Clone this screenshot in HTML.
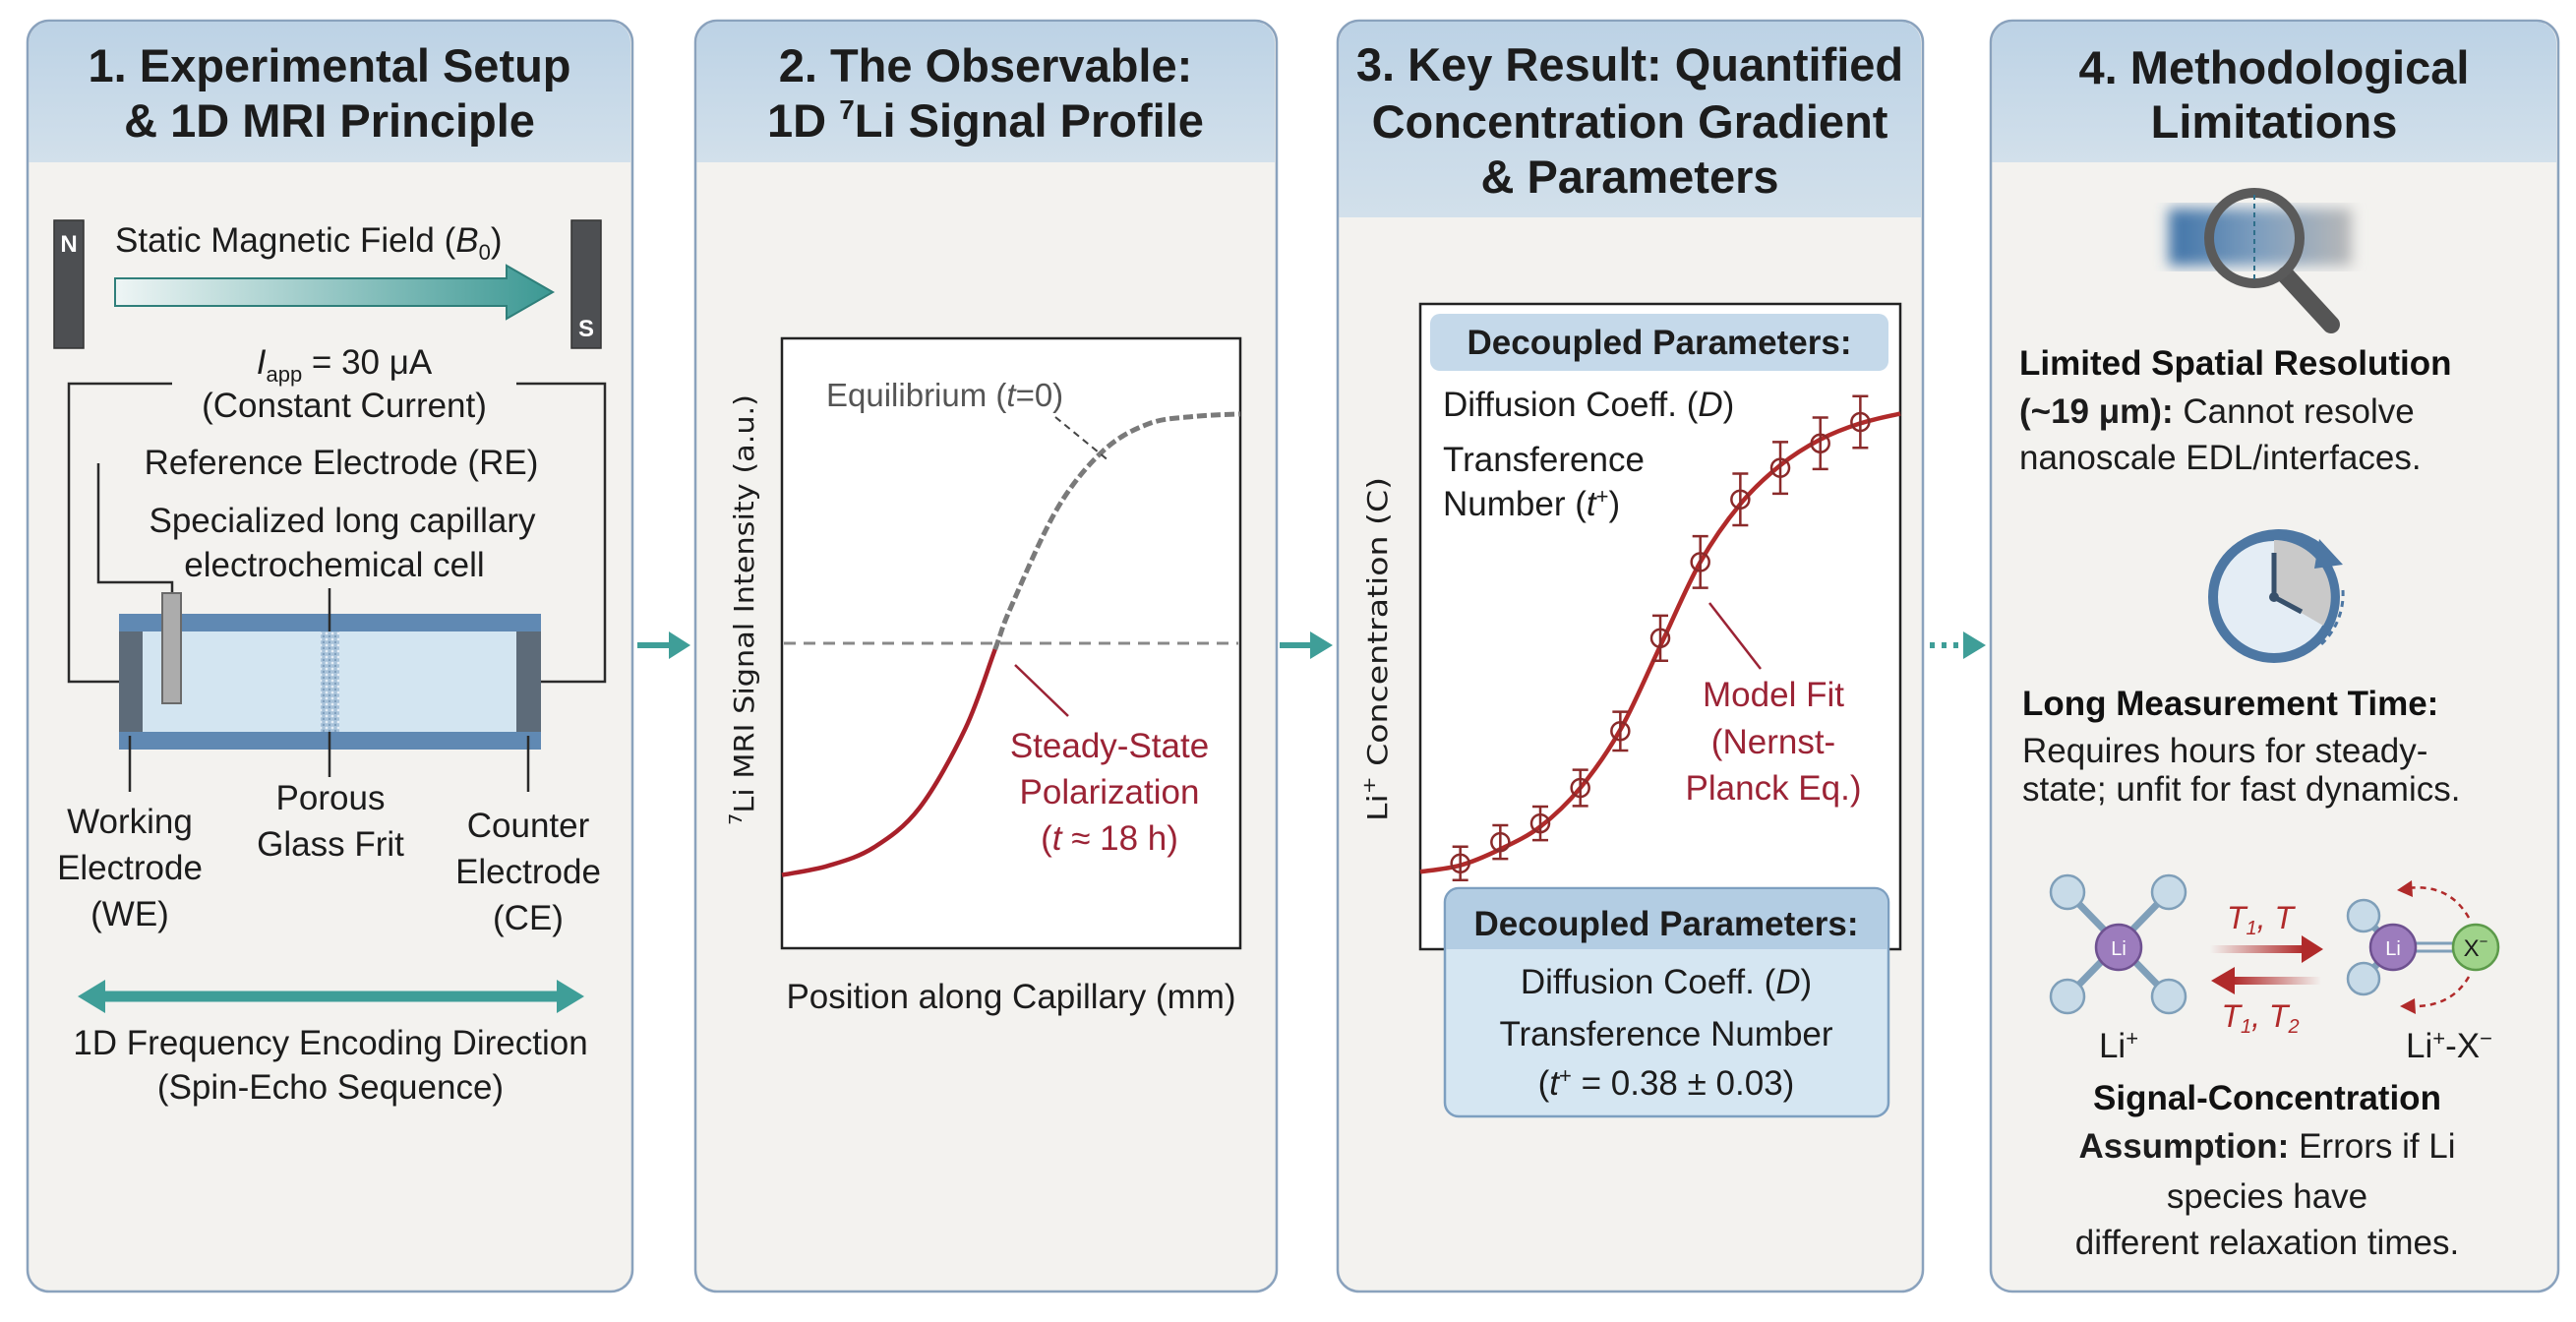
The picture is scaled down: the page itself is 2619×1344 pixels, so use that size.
<!DOCTYPE html>
<html><head><meta charset="utf-8"><style>
html,body{margin:0;padding:0;background:#fff;}
svg{display:block;font-family:"Liberation Sans",Arial,sans-serif;}
</style></head><body>
<svg id="root" width="2619" height="1344" viewBox="0 0 2619 1344" xmlns="http://www.w3.org/2000/svg">
<defs>
<linearGradient id="hdr" x1="0" y1="0" x2="0" y2="1"><stop offset="0" stop-color="#bcd2e5"/><stop offset="1" stop-color="#d2e0eb"/></linearGradient>
<linearGradient id="fieldGrad" x1="0" y1="0" x2="1" y2="0"><stop offset="0" stop-color="#eef5f5"/><stop offset="1" stop-color="#3b9893"/></linearGradient>
<linearGradient id="blurBar" x1="0" y1="0" x2="1" y2="0"><stop offset="0" stop-color="#3f73a8"/><stop offset="0.5" stop-color="#7f9fbf"/><stop offset="1" stop-color="#b8b8b8"/></linearGradient>
<linearGradient id="fadeR" x1="0" y1="0" x2="1" y2="0"><stop offset="0" stop-color="#b02a2a" stop-opacity="0"/><stop offset="1" stop-color="#b02a2a"/></linearGradient>
<linearGradient id="fadeL" x1="0" y1="0" x2="1" y2="0"><stop offset="0" stop-color="#b02a2a"/><stop offset="1" stop-color="#b02a2a" stop-opacity="0"/></linearGradient>
<filter id="blur6"><feGaussianBlur stdDeviation="7"/></filter>
<pattern id="frit" width="6" height="6" patternUnits="userSpaceOnUse"><rect width="6" height="6" fill="#a9c3da"/><circle cx="2" cy="2" r="1.4" fill="#e6eef6"/><circle cx="5" cy="5" r="1.2" fill="#7f9fbd"/></pattern>
<marker id="tealHead" markerWidth="4" markerHeight="4" refX="2" refY="2" orient="auto" markerUnits="strokeWidth"><path d="M0,0 L4,2 L0,4 z" fill="#3f9e98"/></marker>
</defs>

<!-- Panels -->
<g>
<rect x="28" y="21" width="615" height="1292" rx="22" fill="#f3f2ef" stroke="#8aa2bd" stroke-width="2.5"/>
<path d="M29.5,165 V43 a21,21 0 0 1 21,-21 H620 a21,21 0 0 1 21,21 V165 Z" fill="url(#hdr)"/>
<text x="335" y="83" font-size="47" font-weight="bold" text-anchor="middle" fill="#1c1c1c">1. Experimental Setup<tspan x="335" y="139">&amp; 1D MRI Principle</tspan></text>
</g>
<g>
<rect x="707" y="21" width="591" height="1292" rx="22" fill="#f3f2ef" stroke="#8aa2bd" stroke-width="2.5"/>
<path d="M708.5,165 V43 a21,21 0 0 1 21,-21 H1275 a21,21 0 0 1 21,21 V165 Z" fill="url(#hdr)"/>
<text x="1002" y="83" font-size="47" font-weight="bold" text-anchor="middle" fill="#1c1c1c">2. The Observable:<tspan x="1002" y="139">1D <tspan font-size="28" dy="-18">7</tspan><tspan dy="18">Li Signal Profile</tspan></tspan></text>
</g>
<g>
<rect x="1360" y="21" width="595" height="1292" rx="22" fill="#f3f2ef" stroke="#8aa2bd" stroke-width="2.5"/>
<path d="M1361.5,221 V43 a21,21 0 0 1 21,-21 H1932 a21,21 0 0 1 21,21 V221 Z" fill="url(#hdr)"/>
<text x="1657" y="82" font-size="47" font-weight="bold" text-anchor="middle" fill="#1c1c1c">3. Key Result: Quantified<tspan x="1657" y="140">Concentration Gradient</tspan><tspan x="1657" y="196">&amp; Parameters</tspan></text>
</g>
<g>
<rect x="2024" y="21" width="577" height="1292" rx="22" fill="#f3f2ef" stroke="#8aa2bd" stroke-width="2.5"/>
<path d="M2025.5,165 V43 a21,21 0 0 1 21,-21 H2578 a21,21 0 0 1 21,21 V165 Z" fill="url(#hdr)"/>
<text x="2312" y="85" font-size="47" font-weight="bold" text-anchor="middle" fill="#1c1c1c">4. Methodological<tspan x="2312" y="140">Limitations</tspan></text>
</g>

<!-- connector arrows -->
<g><line x1="648" y1="656" x2="682" y2="656" stroke="#3f9e98" stroke-width="6"/><path d="M680,642 L702,656 L680,670 z" fill="#3f9e98"/></g>
<g><line x1="1301" y1="656" x2="1334" y2="656" stroke="#3f9e98" stroke-width="6"/><path d="M1332,642 L1355,656 L1332,670 z" fill="#3f9e98"/></g>
<g><line x1="1962" y1="656" x2="1996" y2="656" stroke="#3f9e98" stroke-width="6" stroke-dasharray="5,7"/><path d="M1996,642 L2019,656 L1996,670 z" fill="#3f9e98"/></g>

<!-- Panel 1 content -->
<g><rect x="55" y="224" width="30" height="130" fill="#4d4f52" stroke="#333" stroke-width="1.5"/><text x="70" y="256" font-size="24" font-weight="bold" fill="#fff" text-anchor="middle">N</text></g>
<g><rect x="581" y="224" width="30" height="130" fill="#4d4f52" stroke="#333" stroke-width="1.5"/><text x="596" y="342" font-size="24" font-weight="bold" fill="#fff" text-anchor="middle">S</text></g>
<text x="117" y="256" font-size="35" fill="#1c1c1c">Static Magnetic Field (<tspan font-style="italic">B</tspan><tspan font-size="22" dy="8">0</tspan><tspan dy="-8">)</tspan></text>
<path d="M117,283 H515 V270 L562,297 L515,324 V311 H117 Z" fill="url(#fieldGrad)" stroke="#2f7f7a" stroke-width="2"/>
<text x="350" y="380" font-size="35" text-anchor="middle" fill="#1c1c1c"><tspan font-style="italic">I</tspan><tspan font-size="22" dy="8">app</tspan><tspan dy="-8"> = 30 μA</tspan></text>
<text x="350" y="424" font-size="35" text-anchor="middle" fill="#1c1c1c">(Constant Current)</text>
<g fill="none" stroke="#2a2a2a" stroke-width="2.5">
<polyline points="175,390 70,390 70,693 121,693"/>
<polyline points="525,390 615,390 615,693 550,693"/>
<polyline points="100,471 100,592 175,592 175,603"/>
</g>
<text x="347" y="482" font-size="35" text-anchor="middle" fill="#1c1c1c">Reference Electrode (RE)</text>
<text x="348" y="541" font-size="35" text-anchor="middle" fill="#1c1c1c">Specialized long capillary<tspan x="340" y="586">electrochemical cell</tspan></text>
<g>
<rect x="121" y="624" width="429" height="138" fill="#6089b3"/>
<rect x="145" y="642" width="380" height="102" fill="#d3e5f1"/>
<rect x="121" y="642" width="24" height="102" fill="#5d6b79"/>
<rect x="525" y="642" width="25" height="102" fill="#5d6b79"/>
<rect x="326" y="642" width="19" height="102" fill="url(#frit)"/>
<rect x="165" y="603" width="19" height="112" fill="#acacac" stroke="#6a6a6a" stroke-width="2"/>
</g>
<g stroke="#2a2a2a" stroke-width="2.5">
<line x1="335" y1="598" x2="335" y2="642"/><line x1="335" y1="744" x2="335" y2="790"/>
<line x1="132" y1="748" x2="132" y2="805"/><line x1="537" y1="748" x2="537" y2="805"/>
</g>
<g font-size="35" text-anchor="middle" fill="#1c1c1c">
<text x="132" y="847">Working<tspan x="132" y="894">Electrode</tspan><tspan x="132" y="941">(WE)</tspan></text>
<text x="336" y="823">Porous<tspan x="336" y="870">Glass Frit</tspan></text>
<text x="537" y="851">Counter<tspan x="537" y="898">Electrode</tspan><tspan x="537" y="945">(CE)</tspan></text>
</g>
<g>
<line x1="100" y1="1013" x2="572" y2="1013" stroke="#3f9e98" stroke-width="11"/>
<path d="M79,1013 L107,996 L107,1030 z" fill="#3f9e98"/><path d="M594,1013 L566,996 L566,1030 z" fill="#3f9e98"/>
</g>
<text x="336" y="1072" font-size="35" text-anchor="middle" fill="#1c1c1c">1D Frequency Encoding Direction<tspan x="336" y="1117">(Spin-Echo Sequence)</tspan></text>

<!-- Panel 2 chart -->
<rect x="795" y="344" width="466" height="620" fill="#fff" stroke="#222" stroke-width="2.5"/>
<line x1="797" y1="654" x2="1259" y2="654" stroke="#888" stroke-width="3" stroke-dasharray="12,8"/>
<g id="p2marks"></g>
<text x="840" y="413" font-size="33" fill="#555">Equilibrium (<tspan font-style="italic">t</tspan>=0)</text>
<line x1="1073" y1="424" x2="1128" y2="469" stroke="#444" stroke-width="2" stroke-dasharray="7,5"/>
<line x1="1032" y1="676" x2="1086" y2="728" stroke="#9b2335" stroke-width="2.5"/>
<text x="1128" y="770" font-size="35" text-anchor="middle" fill="#9b2335">Steady-State<tspan x="1128" y="817">Polarization</tspan><tspan x="1128" y="864">(<tspan font-style="italic">t</tspan> ≈ 18 h)</tspan></text>
<text transform="translate(766,620) rotate(-90)" font-family="DejaVu Sans, sans-serif" font-size="28" text-anchor="middle" fill="#1c1c1c" textLength="438" lengthAdjust="spacingAndGlyphs"><tspan font-size="18" dy="-12">7</tspan><tspan dy="12">Li MRI Signal Intensity (a.u.)</tspan></text>
<text x="1028" y="1025" font-size="35" text-anchor="middle" fill="#1c1c1c">Position along Capillary (mm)</text>

<!-- Panel 3 chart -->
<rect x="1444" y="309" width="488" height="656" fill="#fff" stroke="#222" stroke-width="2.5"/>
<g id="p3marks"></g>
<g>
<rect x="1454" y="319" width="466" height="58" rx="10" fill="#c5d9ea"/>
<text x="1687" y="360" font-size="35" font-weight="bold" text-anchor="middle" fill="#1c1c1c">Decoupled Parameters:</text>
</g>
<text x="1467" y="423" font-size="35" fill="#1c1c1c">Diffusion Coeff. (<tspan font-style="italic">D</tspan>)</text>
<text x="1467" y="479" font-size="35" fill="#1c1c1c">Transference<tspan x="1467" y="524">Number (<tspan font-style="italic">t</tspan><tspan font-size="22" dy="-12">+</tspan><tspan dy="12">)</tspan></tspan></text>
<line x1="1738" y1="613" x2="1790" y2="680" stroke="#9b2335" stroke-width="2.5"/>
<text x="1803" y="718" font-size="35" text-anchor="middle" fill="#9b2335">Model Fit<tspan x="1803" y="766">(Nernst-</tspan><tspan x="1803" y="813">Planck Eq.)</tspan></text>
<g>
<rect x="1469" y="903" width="451" height="232" rx="14" fill="#d5e6f2" stroke="#7d9fc0" stroke-width="2.5"/>
<path d="M1470.5,965 V917 a13,13 0 0 1 13,-13 H1906 a13,13 0 0 1 13,13 V965 Z" fill="#b3cde3"/>
<text x="1694" y="951" font-size="35" font-weight="bold" text-anchor="middle" fill="#1c1c1c">Decoupled Parameters:</text>
<text x="1694" y="1010" font-size="35" text-anchor="middle" fill="#1c1c1c">Diffusion Coeff. (<tspan font-style="italic">D</tspan>)</text>
<text x="1694" y="1063" font-size="35" text-anchor="middle" fill="#1c1c1c">Transference Number</text>
<text x="1694" y="1113" font-size="35" text-anchor="middle" fill="#1c1c1c">(<tspan font-style="italic">t</tspan><tspan font-size="22" dy="-12">+</tspan><tspan dy="12"> = 0.38 ± 0.03)</tspan></text>
</g>
<text transform="translate(1410,660) rotate(-90)" font-family="DejaVu Sans, sans-serif" font-size="28" text-anchor="middle" fill="#1c1c1c" textLength="350" lengthAdjust="spacingAndGlyphs">Li<tspan font-size="18" dy="-12">+</tspan><tspan dy="12"> Concentration (C)</tspan></text>

<!-- Panel 4 -->
<g>
<rect x="2205" y="212" width="186" height="58" fill="url(#blurBar)" filter="url(#blur6)"/>
<line x1="2324" y1="280" x2="2370" y2="330" stroke="#555" stroke-width="18" stroke-linecap="round"/>
<circle cx="2292" cy="242" r="46" fill="none" stroke="#5a5a5a" stroke-width="10"/>
<line x1="2292" y1="198" x2="2292" y2="288" stroke="#2f6f8a" stroke-width="2" stroke-dasharray="5,4"/>
</g>
<text x="2053" y="381" font-size="35" font-weight="bold" fill="#111">Limited Spatial Resolution</text>
<text x="2053" y="430" font-size="35" fill="#1c1c1c"><tspan font-weight="bold">(~19 μm):</tspan> Cannot resolve<tspan x="2053" y="477">nanoscale EDL/interfaces.</tspan></text>
<g>
<circle cx="2312" cy="607" r="62" fill="#e4edf5" stroke="#4d77a3" stroke-width="10"/>
<path d="M2312,607 L2312,549 A58,58 0 0 1 2362,636 Z" fill="#c9c9c9"/>
<line x1="2312" y1="607" x2="2312" y2="562" stroke="#37506b" stroke-width="5"/>
<line x1="2312" y1="607" x2="2340" y2="622" stroke="#37506b" stroke-width="5"/>
<circle cx="2312" cy="607" r="5" fill="#37506b"/>
<path d="M2262,570 A68,68 0 0 1 2368,566" fill="none" stroke="#4d77a3" stroke-width="9"/>
<path d="M2358,548 L2382,574 L2353,578 z" fill="#4d77a3"/>
<path d="M2382,600 A70,70 0 0 1 2360,655" fill="none" stroke="#4d77a3" stroke-width="3" stroke-dasharray="6,5"/>
</g>
<text x="2056" y="727" font-size="35" font-weight="bold" fill="#111">Long Measurement Time:</text>
<text x="2056" y="775" font-size="35" fill="#1c1c1c">Requires hours for steady-<tspan x="2056" y="814">state; unfit for fast dynamics.</tspan></text>
<g stroke="#7f9fb9">
<line x1="2102" y1="907" x2="2205" y2="1013" stroke-width="7"/><line x1="2205" y1="907" x2="2102" y2="1013" stroke-width="7"/>
<circle cx="2102" cy="907" r="17" fill="#c8dbe8" stroke-width="2.5"/><circle cx="2205" cy="907" r="17" fill="#c8dbe8" stroke-width="2.5"/>
<circle cx="2102" cy="1013" r="17" fill="#c8dbe8" stroke-width="2.5"/><circle cx="2205" cy="1013" r="17" fill="#c8dbe8" stroke-width="2.5"/>
<circle cx="2154" cy="963" r="23" fill="#9c7cbd" stroke="#6e5190" stroke-width="2.5"/>
<text x="2154" y="971" font-size="20" fill="#fff" stroke="none" text-anchor="middle">Li</text>
</g>
<g>
<rect x="2247" y="961" width="95" height="8" fill="url(#fadeR)"/><path d="M2340,951 L2362,965 L2340,979 z" fill="#b02a2a"/>
<rect x="2270" y="993" width="90" height="8" fill="url(#fadeL)"/><path d="M2272,983 L2248,997 L2272,1011 z" fill="#b02a2a"/>
<text x="2298" y="944" font-size="32" font-style="italic" fill="#b02a2a" text-anchor="middle">T<tspan font-size="20" dy="6">1</tspan><tspan dy="-6">, T</tspan></text>
<text x="2298" y="1044" font-size="32" font-style="italic" fill="#b02a2a" text-anchor="middle">T<tspan font-size="20" dy="6">1</tspan><tspan dy="-6">, T</tspan><tspan font-size="20" dy="6">2</tspan></text>
</g>
<g stroke="#7f9fb9">
<line x1="2403" y1="931" x2="2433" y2="963" stroke-width="7"/><line x1="2403" y1="995" x2="2433" y2="963" stroke-width="7"/>
<line x1="2455" y1="959" x2="2495" y2="959" stroke-width="3"/><line x1="2455" y1="967" x2="2495" y2="967" stroke-width="3"/>
<circle cx="2403" cy="931" r="16" fill="#c8dbe8" stroke-width="2.5"/><circle cx="2403" cy="995" r="16" fill="#c8dbe8" stroke-width="2.5"/>
<circle cx="2433" cy="963" r="23" fill="#9c7cbd" stroke="#6e5190" stroke-width="2.5"/>
<text x="2433" y="971" font-size="20" fill="#fff" stroke="none" text-anchor="middle">Li</text>
<circle cx="2517" cy="963" r="23" fill="#9fd38a" stroke="#5c9a4a" stroke-width="2.5"/>
<text x="2517" y="972" font-size="24" fill="#1c1c1c" stroke="none" text-anchor="middle">X<tspan font-size="15" dy="-10">−</tspan></text>
<path d="M2510,933 Q2490,898 2448,903" fill="none" stroke="#b02a2a" stroke-width="2.5" stroke-dasharray="6,5"/>
<path d="M2452,895 L2437,905 L2453,912 z" fill="#b02a2a" stroke="none"/>
<path d="M2510,993 Q2492,1024 2452,1023" fill="none" stroke="#b02a2a" stroke-width="2.5" stroke-dasharray="6,5"/>
<path d="M2455,1015 L2440,1023 L2456,1031 z" fill="#b02a2a" stroke="none"/>
</g>
<text x="2154" y="1075" font-size="35" text-anchor="middle" fill="#1c1c1c">Li<tspan font-size="22" dy="-12">+</tspan></text>
<text x="2490" y="1075" font-size="35" text-anchor="middle" fill="#1c1c1c">Li<tspan font-size="22" dy="-12">+</tspan><tspan dy="12">-X</tspan><tspan font-size="22" dy="-12">−</tspan></text>
<text x="2305" y="1128" font-size="35" font-weight="bold" text-anchor="middle" fill="#111">Signal-Concentration</text>
<text x="2305" y="1177" font-size="35" text-anchor="middle" fill="#1c1c1c"><tspan font-weight="bold">Assumption:</tspan> Errors if Li<tspan x="2305" y="1228">species have</tspan><tspan x="2305" y="1275">different relaxation times.</tspan></text>
</svg>
<script>
// ---- Panel 2 data: 1D 7Li signal profile ----
const p2Position = [0, 1, 2, 3, 4, 4.65, 5, 6, 7, 8, 9, 10];
const p2Signal = [0.12, 0.135, 0.165, 0.23, 0.36, 0.49, 0.56, 0.72, 0.815, 0.86, 0.872, 0.876];
const p2SplitIndex = 5;
// ---- Panel 3 data: Li+ concentration ----
const p3Position = [1, 2, 3, 4, 5, 6, 7, 8, 9, 10, 11];
const p3Conc = [0.133, 0.166, 0.195, 0.25, 0.338, 0.482, 0.60, 0.697, 0.746, 0.784, 0.817];
const p3Err = [0.026, 0.026, 0.026, 0.028, 0.03, 0.035, 0.04, 0.04, 0.04, 0.04, 0.04];
const p3FitX = [0, 1, 2, 3, 4, 5, 6, 7, 8, 9, 10, 11, 12];
const p3FitC = [0.12, 0.13, 0.155, 0.19, 0.25, 0.34, 0.47, 0.6, 0.69, 0.75, 0.79, 0.815, 0.83];

const NS = 'http://www.w3.org/2000/svg';
function x2(v){ return 795 + v / 10 * 466; }
function y2(v){ return 964 - v * 620; }
function x3(v){ return 1444 + v * 40.67; }
function y3(v){ return 965 - v * 656; }

function smoothPath(pts, from, to){
  let d = 'M' + pts[from][0].toFixed(1) + ',' + pts[from][1].toFixed(1);
  for (let i = from; i < to; i++){
    const p0 = pts[Math.max(i - 1, 0)], p1 = pts[i], p2 = pts[i + 1], p3 = pts[Math.min(i + 2, pts.length - 1)];
    const c1x = p1[0] + (p2[0] - p0[0]) / 6, c1y = p1[1] + (p2[1] - p0[1]) / 6;
    const c2x = p2[0] - (p3[0] - p1[0]) / 6, c2y = p2[1] - (p3[1] - p1[1]) / 6;
    d += ' C' + c1x.toFixed(1) + ',' + c1y.toFixed(1) + ' ' + c2x.toFixed(1) + ',' + c2y.toFixed(1) + ' ' + p2[0].toFixed(1) + ',' + p2[1].toFixed(1);
  }
  return d;
}

const g2 = document.getElementById('p2marks');
const pts2 = p2Position.map((p, i) => [x2(p), y2(p2Signal[i])]);
const gray = document.createElementNS(NS, 'path');
gray.setAttribute('d', smoothPath(pts2, p2SplitIndex, pts2.length - 1));
gray.setAttribute('fill', 'none');
gray.setAttribute('stroke', '#7a7a7a');
gray.setAttribute('stroke-width', '5');
gray.setAttribute('stroke-dasharray', '10,4');


g2.appendChild(gray);
const red = document.createElementNS(NS, 'path');
red.setAttribute('d', smoothPath(pts2, 0, p2SplitIndex));
red.setAttribute('fill', 'none');
red.setAttribute('stroke', '#a8202a');
red.setAttribute('stroke-width', '4.5');


g2.appendChild(red);

const g3 = document.getElementById('p3marks');
const fitPts = p3FitX.map((p, i) => [x3(p), y3(p3FitC[i])]);
const fit = document.createElementNS(NS, 'path');
fit.setAttribute('d', smoothPath(fitPts, 0, fitPts.length - 1));
fit.setAttribute('fill', 'none');
fit.setAttribute('stroke', '#b02a2a');
fit.setAttribute('stroke-width', '4.5');


g3.appendChild(fit);
p3Position.forEach((p, i) => {
  const cx = x3(p), cy = y3(p3Conc[i]);
  const top = y3(p3Conc[i] + p3Err[i]), bot = y3(p3Conc[i] - p3Err[i]);
  const eb = document.createElementNS(NS, 'path');
  eb.setAttribute('d', 'M' + (cx - 8) + ',' + top + ' H' + (cx + 8) + ' M' + cx + ',' + top + ' V' + bot + ' M' + (cx - 8) + ',' + bot + ' H' + (cx + 8));
  eb.setAttribute('stroke', '#8a2a2a');
  eb.setAttribute('stroke-width', '2.5');
  eb.setAttribute('fill', 'none');
  
  
  g3.appendChild(eb);
  const c = document.createElementNS(NS, 'circle');
  c.setAttribute('cx', cx);
  c.setAttribute('cy', cy);
  c.setAttribute('r', '9');
  c.setAttribute('fill', 'none');
  c.setAttribute('stroke', '#8a2a2a');
  c.setAttribute('stroke-width', '2.5');
  
  
  g3.appendChild(c);
});
</script>
</body></html>
